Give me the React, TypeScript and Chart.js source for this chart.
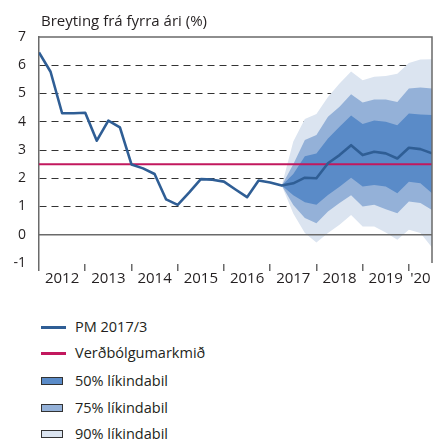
import React, { useEffect, useRef } from 'react';
import { Chart, registerables } from 'chart.js';

Chart.register(...registerables);

const FONT = '"Open Sans", sans-serif';

const titleText = 'Breyting frá fyrra ári (%)';
const yearLabels = ['2012', '2013', '2014', '2015', '2016', '2017', '2018', '2019', "'20"];
const yearLabelPositions = [2, 6, 10, 14, 18, 22, 26, 30, 33];
const yearBoundaries = [0, 4, 8, 12, 16, 20, 24, 28, 32];
const xMin = 0;
const xMax = 34;
const yMin = -1;
const yMax = 7;
const dashedGridValues = [1, 2, 3, 4, 5, 6];

// Quarterly inflation, 2012Q1 .. 2020Q3 (history + forecast)
const pm = [6.45, 5.77, 4.3, 4.3, 4.32, 3.33, 4.04, 3.8, 2.49, 2.35, 2.15, 1.25, 1.06, 1.5, 1.97, 1.95,
  1.88, 1.6, 1.33, 1.92, 1.85, 1.74, 1.82, 2.02, 2.0, 2.53, 2.82, 3.17, 2.82, 2.94, 2.88, 2.7, 3.08, 3.03, 2.88];
const inflationTarget = 2.5;

// Fan chart bands, starting at quarter index 21
const fanStart = 21;
const upper90 = [1.74, 3.3, 4.1, 4.27, 4.88, 5.35, 5.78, 5.47, 5.59, 5.62, 5.7, 6.08, 6.2, 6.21];
const upper75 = [1.74, 2.5, 3.35, 3.53, 4.18, 4.53, 4.97, 4.68, 4.79, 4.79, 4.7, 5.18, 5.21, 5.18];
const upper50 = [1.74, 2.15, 2.78, 2.88, 3.41, 3.82, 4.22, 3.92, 4.04, 4.0, 3.88, 4.29, 4.26, 4.24];
const lower50 = [1.74, 1.4, 1.15, 1.06, 1.41, 1.7, 2.02, 1.71, 1.76, 1.71, 1.47, 1.88, 1.82, 1.47];
const lower75 = [1.74, 1.05, 0.59, 0.41, 0.82, 1.12, 1.4, 1.0, 1.06, 0.9, 0.76, 1.18, 1.12, 0.88];
const lower90 = [1.74, 0.75, 0.06, -0.27, 0.06, 0.35, 0.7, 0.29, 0.29, 0.08, -0.18, 0.18, 0.06, -0.45];

const legendLabels = ['PM 2017/3', 'Verðbólgumarkmið', '50% líkindabil', '75% líkindabil', '90% líkindabil'];

const LINE_COLOR = '#2F5E95';
const TARGET_COLOR = '#C2185E';
const C50 = '#5A8BC8';
const C75 = '#94B1D8';
const C90 = '#DBE4F0';
const AXIS_COLOR = '#6a6a6a';
const TEXT_COLOR = '#231F20';
const CLEAR = 'rgba(0,0,0,0)';

const toPts = (arr: number[], start: number) => arr.map((y, i) => ({ x: start + i, y }));

const framePlugin = {
  id: 'frame',
  afterDatasetsDraw(chart: any) {
    const { ctx, chartArea } = chart;
    const { left, right, top, bottom } = chartArea;
    ctx.save();
    ctx.strokeStyle = AXIS_COLOR;
    ctx.lineWidth = 1.5;
    ctx.beginPath();
    ctx.moveTo(left, top);
    ctx.lineTo(right, top);
    ctx.lineTo(right, bottom);
    ctx.stroke();
    ctx.restore();
  },
};

const isBoundary = (ctx: any) => yearBoundaries.includes(Number(ctx.tick?.value));

function FanChart() {
  const ref = useRef<HTMLCanvasElement>(null);
  useEffect(() => {
    if (!ref.current) return;
    const chart = new Chart(ref.current, {
      type: 'line',
      data: {
        datasets: [
          { label: legendLabels[0], data: toPts(pm, 0), borderColor: LINE_COLOR, borderWidth: 2.6, pointRadius: 0, fill: false, borderJoinStyle: 'round' },
          { label: legendLabels[1], data: [{ x: xMin, y: inflationTarget }, { x: xMax, y: inflationTarget }], borderColor: TARGET_COLOR, borderWidth: 2, pointRadius: 0, fill: false },
          { label: 'zero', data: [{ x: xMin, y: 0 }, { x: xMax, y: 0 }], borderColor: AXIS_COLOR, borderWidth: 1.5, pointRadius: 0, fill: false },
          { label: 'u50', data: toPts(upper50, fanStart), borderWidth: 0, pointRadius: 0, backgroundColor: C50, fill: '+1' },
          { label: 'l50', data: toPts(lower50, fanStart), borderWidth: 0, pointRadius: 0, fill: false },
          { label: 'u75', data: toPts(upper75, fanStart), borderWidth: 0, pointRadius: 0, backgroundColor: C75, fill: '+1' },
          { label: 'l75', data: toPts(lower75, fanStart), borderWidth: 0, pointRadius: 0, fill: false },
          { label: 'u90', data: toPts(upper90, fanStart), borderWidth: 0, pointRadius: 0, backgroundColor: C90, fill: '+1' },
          { label: 'l90', data: toPts(lower90, fanStart), borderWidth: 0, pointRadius: 0, fill: false },
        ],
      },
      options: {
        responsive: false,
        animation: false,
        events: [],
        layout: { padding: { top: 37, right: 1, left: 0, bottom: 0 } },
        plugins: { legend: { display: false }, tooltip: { enabled: false }, title: { display: false } },
        scales: {
          x: {
            type: 'linear',
            min: xMin,
            max: xMax,
            afterBuildTicks: (scale: any) => {
              scale.ticks = [
                ...yearBoundaries.map((v) => ({ value: v })),
                ...yearLabelPositions.map((v) => ({ value: v })),
              ].sort((a, b) => a.value - b.value);
            },
            afterFit: (scale: any) => { scale.height = 37; },
            grid: {
              display: true,
              drawOnChartArea: false,
              drawTicks: true,
              tickLength: 8,
              color: (ctx: any) => (isBoundary(ctx) ? AXIS_COLOR : CLEAR),
              tickColor: (ctx: any) => (isBoundary(ctx) ? AXIS_COLOR : CLEAR),
              lineWidth: 1.5,
              tickWidth: 1.5,
            },
            border: { display: true, color: CLEAR, width: 1 },
            ticks: {
              autoSkip: false,
              maxRotation: 0,
              padding: -1,
              color: TEXT_COLOR,
              font: { family: FONT, size: 15 },
              callback: (value: any) => {
                const idx = yearLabelPositions.indexOf(Number(value));
                return idx >= 0 ? yearLabels[idx] : '';
              },
            },
          },
          y: {
            type: 'linear',
            min: yMin,
            max: yMax,
            afterFit: (scale: any) => { scale.width = 39; },
            ticks: { stepSize: 1, padding: 13, color: TEXT_COLOR, font: { family: FONT, size: 14 } },
            grid: {
              drawTicks: false,
              color: (ctx: any) => (dashedGridValues.includes(ctx.tick?.value) ? '#333' : CLEAR),
              lineWidth: 1,
            },
            border: { display: true, color: AXIS_COLOR, width: 1.5, dash: [7, 5] },
          },
        },
      },
      plugins: [framePlugin],
    } as any);
    return () => chart.destroy();
  }, []);
  return <canvas ref={ref} width={433} height={300} style={{ position: 'absolute', left: 0, top: 0 }} />;
}

function LegendRow({ top, kind, color, label }: { top: number; kind: 'line' | 'box'; color: string; label: string }) {
  return (
    <div style={{ position: 'absolute', left: 0, top: top - 10, height: 20, width: 433 }}>
      {kind === 'line' ? (
        <div style={{ position: 'absolute', left: 41, top: 9, width: 25, height: 2.5, background: color }} />
      ) : (
        <div style={{ position: 'absolute', left: 41, top: 6, width: 20, height: 6, background: color, border: '1px solid #333' }} />
      )}
      <div style={{ position: 'absolute', left: 75, top: 0, lineHeight: '20px', fontSize: 14.5, whiteSpace: 'nowrap' }}>{label}</div>
    </div>
  );
}

export default function App() {
  return (
    <div style={{ position: 'absolute', left: 0, top: 0, width: 433, height: 441, background: '#fff', fontFamily: FONT, color: TEXT_COLOR, overflow: 'hidden' }}>
      <FanChart />
      <div style={{ position: 'absolute', left: 41, top: 10, lineHeight: '20px', fontSize: 15, whiteSpace: 'nowrap' }}>{titleText}</div>
      <LegendRow top={327} kind="line" color={LINE_COLOR} label={legendLabels[0]} />
      <LegendRow top={353} kind="line" color={TARGET_COLOR} label={legendLabels[1]} />
      <LegendRow top={380.5} kind="box" color={C50} label={legendLabels[2]} />
      <LegendRow top={407.5} kind="box" color={C75} label={legendLabels[3]} />
      <LegendRow top={434} kind="box" color={C90} label={legendLabels[4]} />
    </div>
  );
}
